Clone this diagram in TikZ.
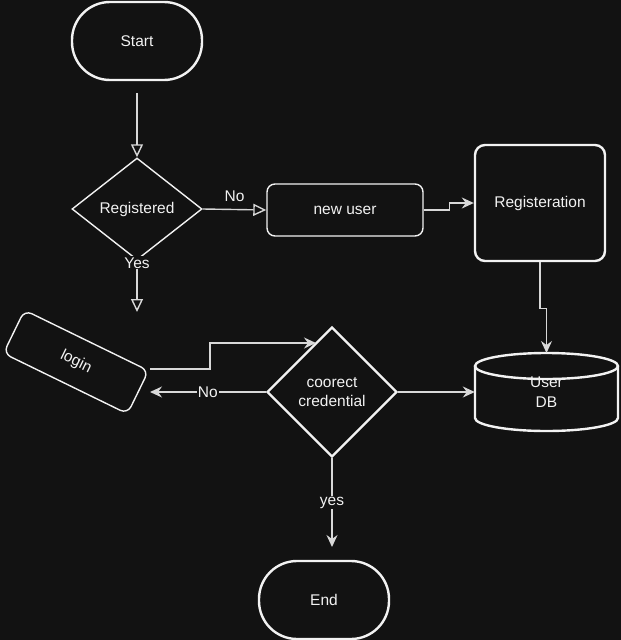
\documentclass[tikz,border=0pt]{standalone}
\usepackage{fontspec}
\setmainfont{Liberation Sans}
\usetikzlibrary{shapes.geometric,arrows.meta}
\definecolor{bg}{HTML}{121212}
\definecolor{fg}{HTML}{F2F2F2}
\definecolor{ln}{HTML}{D8D8D8}
\begin{document}
\begin{tikzpicture}[x=1pt,y=-1pt,
  font=\fontsize{15.5}{19.4}\selectfont, text=fg,
  term/.style={draw=fg, line width=2.4, rounded corners=38, minimum width=130, minimum height=78, inner sep=0},
  proc/.style={draw=fg, line width=1.4, rounded corners=8, inner sep=0},
  dec/.style={diamond, draw=fg, inner sep=0, align=center},
  conn/.style={draw=ln, line width=1.4},
  opentri/.style={-{Triangle[open,length=13,width=12]}},
  arr/.style={-{Stealth[length=12,width=11,inset=4]}},
  lbl/.style={fill=bg, inner sep=1, text=fg}]
\fill[bg] (0,0) rectangle (621,640);
\useasboundingbox (0,0) rectangle (621,640);

% nodes
\node[term] (start) at (137,41) {Start};
\node[dec, line width=1.4, minimum width=130, minimum height=102] (reg) at (137,209) {Registered};
\node[proc, minimum width=156, minimum height=52] (nu) at (345,210) {new user};
\node[proc, line width=2.4, rounded corners=10, minimum width=130, minimum height=116] (regn) at (540,203) {Registeration};
\node[proc, rotate=-26, minimum width=138, minimum height=48] (login) at (76,362) {login};
\node[dec, line width=2.4, minimum width=130, minimum height=130] (cred) at (332,392) {coorect\\credential};
\node[minimum width=143, minimum height=78, inner sep=0, align=center] (db) at (546.5,392) {User\\DB};
\node[term] (end) at (324,600) {End};

% cylinder outline
\draw[fg, line width=2.4] (546.5,366) ellipse [x radius=71.5, y radius=13];
\draw[fg, line width=2.4] (475,366) -- (475,418) arc[start angle=180, end angle=0, x radius=71.5, y radius=13] -- (618,366);

% coordinates
\coordinate (s0) at (137,93);
\coordinate (yesEnd) at (137,312);
\coordinate (dbtop) at (546.5,353);
\coordinate (loginOut) at (150,369);
\coordinate (loginIn) at (150,392);
\coordinate (credIn) at (316,343);
\coordinate (endIn) at (332,547);

% connectors
\draw[conn, opentri] (s0) -- (reg.north);
\draw[conn, opentri] (reg.south) -- node[lbl, pos=0.04] {Yes} (yesEnd);
\draw[conn, opentri] (reg.east) -- node[pos=0.5, yshift=13] {No} (nu.west);
\draw[conn, arr] (nu.east) -- ++(26,0) |- (regn.west);
\draw[conn, arr] (regn.south) -- ++(0,46) -| (dbtop);
\draw[conn, arr] (loginOut) -- ++(60,0) |- (credIn);
\draw[conn, arr] (cred.west) -- node[lbl] {No} (loginIn);
\draw[conn, arr] (cred.east) -- (db.west);
\draw[conn, arr] (cred.south) -- node[lbl] {yes} (endIn);
\end{tikzpicture}
\end{document}
